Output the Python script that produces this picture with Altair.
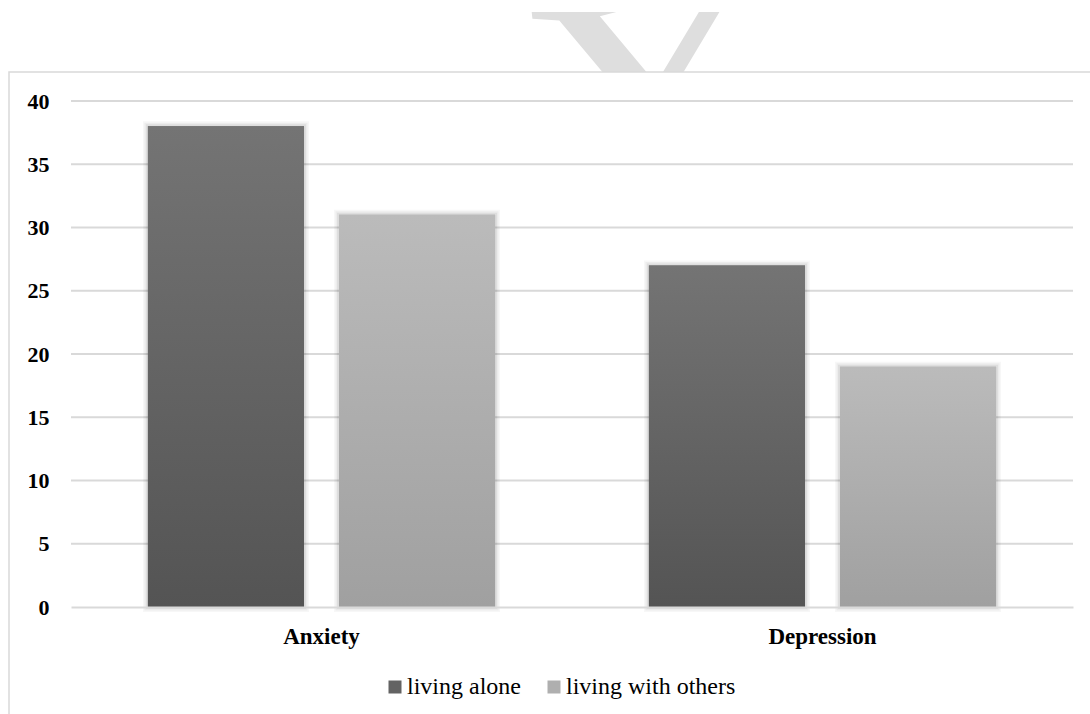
import altair as alt
import pandas as pd

# Chart data
categories = ["Anxiety", "Depression"]
groups = ["living alone", "living with others"]
living_alone = [38, 27]
living_with_others = [31, 19]
y_ticks = [0, 5, 10, 15, 20, 25, 30, 35, 40]

rows = []
for i, cat in enumerate(categories):
    rows.append({"condition": cat, "group": groups[0], "value": living_alone[i]})
    rows.append({"condition": cat, "group": groups[1], "value": living_with_others[i]})
df = pd.DataFrame(rows)
grid_df = pd.DataFrame({"tick": [t for t in y_ticks if t > 0]})

FONT = "Liberation Serif"
GRID = "#d9d9d9"
W, H = 1002, 506

x_enc = alt.X(
    "condition:N",
    sort=categories,
    scale=alt.Scale(paddingInner=0.307, paddingOuter=0.1535),
    axis=alt.Axis(
        title=None, labelAngle=0, ticks=False, tickSize=0, labelPadding=18,
        labelFont=FONT, labelFontSize=23, labelFontWeight="bold", labelColor="#000000",
        domainColor=GRID, domainWidth=2, grid=False, zindex=1,
    ),
)
xoff_enc = alt.XOffset("group:N", sort=groups,
                       scale=alt.Scale(paddingInner=0.183, paddingOuter=0))
y_enc = alt.Y(
    "value:Q",
    scale=alt.Scale(domain=[0, 40], nice=False),
    axis=alt.Axis(
        title=None, values=y_ticks, grid=False, domain=False, ticks=False, tickSize=0,
        labelPadding=22, labelFont=FONT, labelFontSize=22, labelFontWeight="bold",
        labelColor="#000000", zindex=1,
    ),
)

# Faint background watermark letter peeking above the frame
watermark = alt.Chart(pd.DataFrame({"t": ["X"]})).mark_text(
    font=FONT, fontSize=360, color="#dedede", align="center", baseline="middle", angle=354
).encode(text="t:N", x=alt.value(584), y=alt.value(24))

# White page margin above the watermark
margin = alt.Chart(pd.DataFrame({"f": [0]})).mark_rect(fill="#ffffff").encode(
    x=alt.value(-80), x2=alt.value(1030), y=alt.value(-110), y2=alt.value(-89))

# White chart frame with a light grey border
frame = alt.Chart(pd.DataFrame({"f": [0]})).mark_rect(
    fill="#ffffff", stroke=GRID, strokeWidth=1.5
).encode(x=alt.value(-62), x2=alt.value(1060), y=alt.value(-29), y2=alt.value(660))

# Horizontal gridlines
grid = alt.Chart(grid_df).mark_rule(color=GRID, strokeWidth=2).encode(
    y=alt.Y("tick:Q", scale=alt.Scale(domain=[0, 40], nice=False)),
    x=alt.value(0), x2=alt.value(W),
)

base = alt.Chart(df).encode(x=x_enc, xOffset=xoff_enc, y=y_enc)

# Soft drop shadow around each bar
shadows = [
    base.mark_bar(fill="transparent", stroke="#000000", strokeOpacity=op, strokeWidth=sw)
    for sw, op in [(10, 0.03), (7, 0.045), (4, 0.06)]
]

# Solid bars carrying the legend
legend_bars = base.mark_bar().encode(
    color=alt.Color(
        "group:N", sort=groups,
        scale=alt.Scale(domain=groups, range=["#636363", "#afafaf"]),
        legend=alt.Legend(
            title=None, orient="none", legendX=312, legendY=574, direction="horizontal",
            symbolType="square", symbolSize=169, symbolStrokeWidth=0,
            labelFont=FONT, labelFontSize=24, labelColor="#000000", labelLimit=400,
            labelOffset=0, columnPadding=21, padding=0,
        ),
    )
)


def gradient(top, bottom):
    return alt.LinearGradient(
        gradient="linear",
        stops=[alt.GradientStop(color=top, offset=0), alt.GradientStop(color=bottom, offset=1)],
        x1=0, x2=0, y1=0, y2=1,
    )


alone_bars = base.transform_filter(alt.datum.group == groups[0]).mark_bar(
    fill=gradient("#747474", "#545454"))
others_bars = base.transform_filter(alt.datum.group == groups[1]).mark_bar(
    fill=gradient("#bbbbbb", "#a0a0a0"))

chart = alt.layer(
    watermark, margin, frame, grid, *shadows, legend_bars, alone_bars, others_bars
).properties(
    width=W, height=H,
    autosize=alt.AutoSizeParams(type="none"),
    padding={"left": 71, "top": 101, "right": 17, "bottom": 107},
    background="#ffffff",
).configure(font=FONT).configure_view(stroke=None)

chart.save("out.html", embed_options={"renderer": "svg", "actions": False})
